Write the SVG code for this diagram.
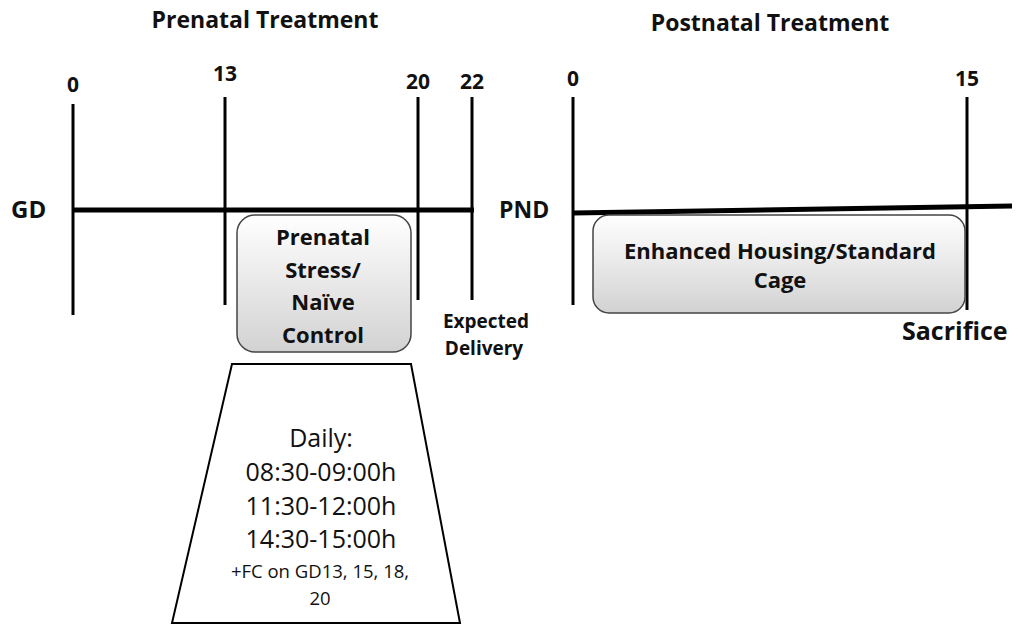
<svg xmlns="http://www.w3.org/2000/svg" width="1018" height="624" viewBox="0 0 1018 624">
<defs>
<linearGradient id="g" x1="0" y1="0" x2="0" y2="1">
<stop offset="0" stop-color="#ffffff"/>
<stop offset="1" stop-color="#d2d2d2"/>
</linearGradient>
</defs>
<style>
text{font-family:"Open Sans","Noto Sans","Liberation Sans",sans-serif;fill:#111;}
.b{font-weight:bold;}
.t{font-size:22px;font-weight:bold;}
.n{font-size:21px;font-weight:bold;}
.v{stroke:#000;stroke-width:3;fill:none;}
.h{stroke:#000;stroke-width:5;fill:none;}
.box{fill:url(#g);stroke:#444;stroke-width:1.5;}
.m{text-anchor:middle;}
.d{font-size:25px;}
</style>
<rect width="1018" height="624" fill="#fff"/>
<text class="b m" x="265" y="28" font-size="23">Prenatal Treatment</text>
<text class="b m" x="770" y="31" font-size="23">Postnatal Treatment</text>
<g id="axes">
<line class="v" x1="73" y1="104" x2="73" y2="315"/>
<line class="v" x1="225" y1="97" x2="225" y2="305"/>
<line class="v" x1="418" y1="97" x2="418" y2="300"/>
<line class="v" x1="472" y1="97" x2="472" y2="300"/>
<line class="h" x1="73" y1="210" x2="474" y2="210"/>
<line class="v" x1="573" y1="97" x2="573" y2="305"/>
<line class="v" x1="967" y1="97" x2="967" y2="310"/>
<line class="h" x1="573" y1="213" x2="1012" y2="206"/>
</g>
<g id="labels">
<text class="n m" x="73" y="92">0</text>
<text class="n m" x="225" y="81">13</text>
<text class="n m" x="418" y="89">20</text>
<text class="n m" x="472" y="89">22</text>
<text class="n m" x="573" y="86">0</text>
<text class="n m" x="967" y="86">15</text>
<text class="b" x="11" y="218" font-size="24">GD</text>
<text class="b" x="499" y="218" font-size="23">PND</text>
<text class="b m" x="486" y="328" font-size="19">Expected</text>
<text class="b m" x="484" y="355" font-size="19">Delivery</text>
<text class="b" x="902" y="340" font-size="25">Sacrifice</text>
</g>
<g id="prenatal">
<rect class="box" x="237" y="215" width="174" height="137" rx="18"/>
<text class="t m" x="323" y="245">Prenatal</text>
<text class="t m" x="323" y="278">Stress/</text>
<text class="t m" x="323" y="310">Naïve</text>
<text class="t m" x="323" y="343">Control</text>
</g>
<g id="postnatal">
<rect class="box" x="593" y="215" width="372" height="98" rx="16"/>
<text class="t m" x="780" y="259">Enhanced Housing/Standard</text>
<text class="t m" x="780" y="288">Cage</text>
</g>
<g id="schedule">
<polygon points="232,364 411,364 460,623 172,623" fill="#fff" stroke="#000" stroke-width="2"/>
<text class="m d" x="321" y="447">Daily:</text>
<text class="m d" x="321" y="481">08:30-09:00h</text>
<text class="m d" x="321" y="515">11:30-12:00h</text>
<text class="m d" x="321" y="548">14:30-15:00h</text>
<text class="m" x="320" y="578" font-size="18.5">+FC on GD13, 15, 18,</text>
<text class="m" x="320" y="605" font-size="18.5">20</text>
</g>
</svg>
